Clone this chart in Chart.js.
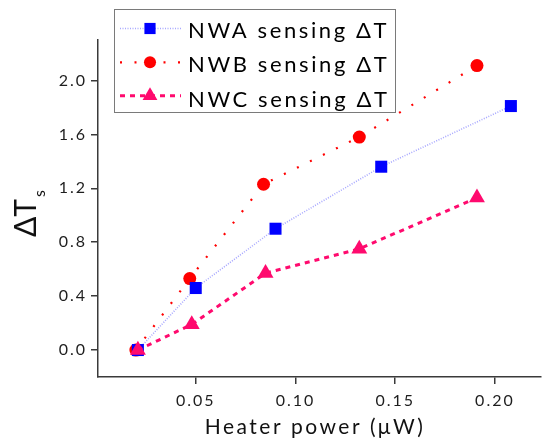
<!DOCTYPE html>
<html>
<head>
<meta charset="utf-8">
<script src="https://cdn.jsdelivr.net/npm/chart.js@4/dist/chart.umd.min.js"></script>
<style>
  html, body { margin: 0; padding: 0; background: #ffffff; }
  #c { display: block; }
</style>
</head>
<body>
<canvas id="c" width="550" height="439"></canvas>
<script>
// Series labels
const seriesNames = ['NWA sensing \u0394T', 'NWB sensing \u0394T', 'NWC sensing \u0394T'];

// Heater power (µW) and sensed temperature rise for each nanowire
const nwaPower  = [0.021, 0.050, 0.090, 0.143, 0.208];
const nwaDeltaT = [0.00, 0.46, 0.90, 1.36, 1.81];

const nwbPower  = [0.020, 0.047, 0.084, 0.132, 0.191];
const nwbDeltaT = [0.00, 0.53, 1.23, 1.58, 2.11];

const nwcPower  = [0.021, 0.048, 0.085, 0.132, 0.191];
const nwcDeltaT = [0.00, 0.19, 0.57, 0.75, 1.13];

// Axis ticks
const xTickValues = [0.05, 0.10, 0.15, 0.20];
const yTickValues = [0.0, 0.4, 0.8, 1.2, 1.6, 2.0];

const FONT = 'Lato, "Open Sans", "DejaVu Sans", sans-serif';
const AXIS_COLOR = '#3a3a3a';

function toPoints(xs, ys) {
  return xs.map((x, i) => ({ x: x, y: ys[i] }));
}

const seriesStyles = [
  { color: '#0000ff', line: '#a8a8ff', lineWidth: 1.6, dash: [1, 1.5],  pointStyle: 'rect',     radius: 8.5, order: 1 },
  { color: '#ff0000', line: '#ff0000', lineWidth: 2.2, dash: [2, 12.5], pointStyle: 'circle',   radius: 6.5, order: 2 },
  { color: '#ff0a6e', line: '#ff0a6e', lineWidth: 3,   dash: [5, 5],    pointStyle: 'triangle', radius: 9.2, order: 0 }
];

const seriesData = [
  toPoints(nwaPower, nwaDeltaT),
  toPoints(nwbPower, nwbDeltaT),
  toPoints(nwcPower, nwcDeltaT)
];

const datasets = seriesData.map((pts, i) => {
  const s = seriesStyles[i];
  return {
    label: seriesNames[i],
    data: pts,
    order: s.order,
    borderColor: s.line,
    borderWidth: s.lineWidth,
    borderDash: s.dash,
    borderCapStyle: 'butt',
    backgroundColor: s.color,
    pointStyle: s.pointStyle,
    pointRadius: s.radius,
    pointHoverRadius: s.radius,
    pointBackgroundColor: s.color,
    pointBorderColor: s.color,
    pointBorderWidth: 0,
    tension: 0,
    fill: false,
    clip: false
  };
});

// Wide letter spacing for tick labels
const spacingPlugin = {
  id: 'tickSpacing',
  beforeLayout(chart) { chart.ctx.letterSpacing = '2px'; },
  beforeDraw(chart) { chart.ctx.letterSpacing = '2px'; }
};

// Boxed legend with line samples, axis titles
const decorPlugin = {
  id: 'decor',
  afterDraw(chart) {
    const ctx = chart.ctx;
    const h = Chart.helpers;

    // x axis title
    ctx.save();
    ctx.letterSpacing = '2.5px';
    ctx.font = '21px ' + FONT;
    ctx.fillStyle = '#111111';
    ctx.textAlign = 'center';
    ctx.textBaseline = 'alphabetic';
    ctx.fillText('Heater power (\u03bcW)', 315, 434);
    ctx.restore();

    // y axis title: ΔT with subscript s
    ctx.save();
    ctx.translate(36, 237);
    ctx.rotate(-Math.PI / 2);
    ctx.letterSpacing = '0px';
    ctx.fillStyle = '#111111';
    ctx.textBaseline = 'alphabetic';
    ctx.textAlign = 'left';
    ctx.font = '30px ' + FONT;
    ctx.fillText('\u0394T', 0, 0);
    ctx.font = '16px ' + FONT;
    ctx.fillText('s', 40, 9);
    ctx.restore();

    // legend
    ctx.save();
    ctx.fillStyle = '#ffffff';
    ctx.fillRect(114.5, 9.5, 281, 103);
    ctx.strokeStyle = '#7a7a7a';
    ctx.lineWidth = 1;
    ctx.strokeRect(114.5, 9.5, 281, 103);
    const rows = [28.5, 62.3, 95.7];
    const textY = [38.3, 71.8, 106.5];
    chart.data.datasets.forEach((ds, i) => {
      const s = seriesStyles[i];
      const y = rows[i];
      ctx.save();
      ctx.strokeStyle = s.line;
      ctx.lineWidth = s.lineWidth;
      ctx.setLineDash(s.dash);
      ctx.beginPath();
      ctx.moveTo(120, y);
      ctx.lineTo(181, y);
      ctx.stroke();
      ctx.restore();
      ctx.save();
      ctx.fillStyle = s.color;
      ctx.strokeStyle = s.color;
      h.drawPoint(ctx, { pointStyle: s.pointStyle, radius: s.radius * 0.93, rotation: 0, borderWidth: 0 }, 150, y);
      ctx.restore();
      ctx.save();
      ctx.letterSpacing = '2.6px';
      ctx.font = '22px ' + FONT;
      ctx.fillStyle = '#000000';
      ctx.textAlign = 'left';
      ctx.textBaseline = 'alphabetic';
      ctx.fillText(ds.label, 188, textY[i]);
      ctx.restore();
    });
    ctx.restore();
  }
};

new Chart(document.getElementById('c'), {
  type: 'line',
  data: { datasets: datasets },
  options: {
    responsive: false,
    animation: false,
    devicePixelRatio: 1,
    layout: { padding: { top: 40, left: 0, right: 0, bottom: 0 } },
    plugins: {
      legend: { display: false },
      tooltip: { enabled: false },
      title: { display: false }
    },
    scales: {
      x: {
        type: 'linear',
        min: 0.001,
        max: 0.223,
        afterBuildTicks(scale) { scale.ticks = xTickValues.map(v => ({ value: v })); },
        afterFit(scale) { scale.height = 62; },
        grid: { drawOnChartArea: false, drawTicks: true, tickLength: 7, color: AXIS_COLOR, lineWidth: 1.5 },
        border: { display: true, color: AXIS_COLOR, width: 1.5 },
        ticks: {
          color: '#1e1e1e',
          padding: 7,
          font: { family: FONT, size: 16 },
          maxRotation: 0,
          autoSkip: false,
          callback: v => Number(v).toFixed(2)
        }
      },
      y: {
        type: 'linear',
        min: -0.2,
        max: 2.3,
        afterBuildTicks(scale) { scale.ticks = yTickValues.map(v => ({ value: v })); },
        afterFit(scale) { scale.width = 98; },
        grid: { drawOnChartArea: false, drawTicks: true, tickLength: 7, color: AXIS_COLOR, lineWidth: 1.5 },
        border: { display: true, color: AXIS_COLOR, width: 1.5 },
        ticks: {
          color: '#1e1e1e',
          padding: 4,
          font: { family: FONT, size: 16 },
          autoSkip: false,
          callback: v => Number(v).toFixed(1)
        }
      }
    }
  },
  plugins: [spacingPlugin, decorPlugin]
});
</script>
</body>
</html>
